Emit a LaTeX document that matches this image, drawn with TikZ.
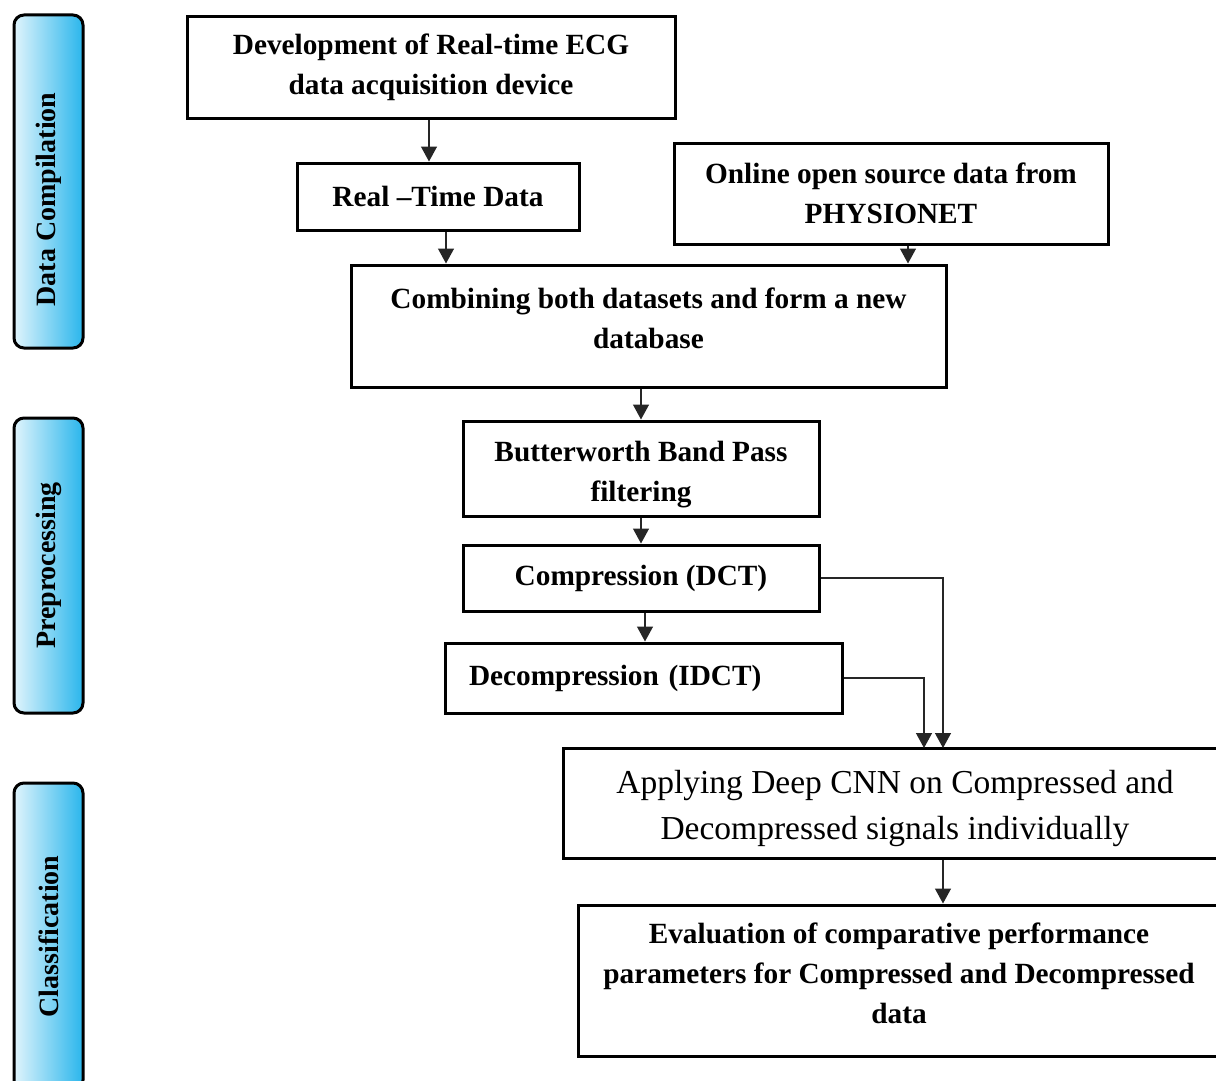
\documentclass[tikz,border=0pt]{standalone}
\usepackage{fontspec}
\setmainfont{Liberation Serif}
\usetikzlibrary{arrows.meta,calc}
\definecolor{sdark}{HTML}{2AB6EC}
\definecolor{slight}{HTML}{E0F4FC}
\begin{document}
\begin{tikzpicture}[x=1pt,y=-1pt,
  box/.style={draw, line width=3pt, align=center, inner sep=0pt,
    font=\bfseries\fontsize{29.3}{40}\selectfont},
  lbl/.style={align=center, inner sep=0pt, font=\bfseries\fontsize{29.3}{40}\selectfont},
  side/.style={draw, line width=3pt, rounded corners=10pt, inner sep=0pt,
    left color=slight, right color=sdark, minimum width=69pt,
    font=\bfseries\fontsize{28}{30}\selectfont},
  arr/.style={line width=1.4pt, draw=black!85, -{Triangle[width=16pt,length=15pt]}}]
\useasboundingbox (0,0) rectangle (1216,1081);
\clip (0,0) rectangle (1216,1081);

% side labels
\node[side, minimum height=333pt] (s1) at (48.5,181.5) {\rotatebox{90}{Data Compilation\hspace*{36pt}}};
\node[side, minimum height=295pt] (s2) at (48.5,565.5) {\rotatebox{90}{Preprocessing}};
\node[side, minimum height=307pt] (s3) at (48.5,936.5) {\rotatebox{90}{Classification}};

% boxes
\node[box, minimum width=488pt, minimum height=101pt] (dev) at (431,67.5)
  {Development of Real-time ECG\\data acquisition device};
\node[box, minimum width=282pt, minimum height=67pt] (rt) at (438,196.5)
  {Real –Time Data};
\node[box, minimum width=434pt, minimum height=101pt] (online) at (891,193.5)
  {Online open source data from\\PHYSIONET};
\node[box, minimum width=595pt, minimum height=122pt,
  label={[lbl, yshift=8pt]center:{Combining both datasets and form a new\\database}}] (comb) at (648.5,326) {};
\node[box, minimum width=356pt, minimum height=95pt,
  label={[lbl, yshift=-6pt]center:{Butterworth Band Pass\\filtering}}] (butt) at (641,468.5) {};
\node[box, minimum width=356pt, minimum height=66pt] (comp) at (641,578)
  {Compression (DCT)};
\node[box, minimum width=397pt, minimum height=70pt, align=left,
  text width=349pt, inner xsep=24pt] (decomp) at (643.5,678)
  {Decompression (IDCT)};
\node[box, minimum width=664pt, minimum height=110pt,
  label={[lbl, yshift=-5pt, font=\fontsize{33.5}{46}\selectfont]center:{Applying Deep CNN on Compressed and\\Decompressed signals individually}}] (cnn) at (895,803) {};
\node[box, minimum width=642pt, minimum height=151pt,
  label={[lbl, yshift=7pt]center:{Evaluation of comparative performance\\parameters for Compressed and Decompressed\\data}}] (eval) at (899,980.5) {};

% connectors
\coordinate (ca) at (943,748);
\coordinate (cb) at (924,748);
\draw[arr] ([xshift=-2pt]dev.south) -- ([xshift=-2pt]dev.south |- rt.north);
\draw[arr] ([xshift=8pt]rt.south) -- ([xshift=8pt]rt.south |- comb.north);
\draw[arr] ([xshift=17pt]online.south) -- ([xshift=17pt]online.south |- comb.north);
\draw[arr] (butt.north |- comb.south) -- (butt.north);
\draw[arr] (butt.south) -- (comp.north);
\draw[arr] ([xshift=4pt]comp.south) -- ([xshift=4pt]comp.south |- decomp.north);
\draw[arr] (comp.east) -| (ca);
\draw[arr] (decomp.east) -| (cb);
\draw[arr] (ca |- cnn.south) -- (ca |- eval.north);
\end{tikzpicture}
\end{document}
